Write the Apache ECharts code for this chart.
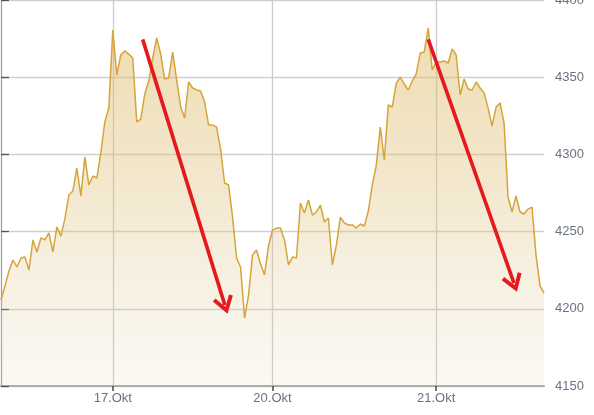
<!DOCTYPE html>
<html>
<head>
<meta charset="utf-8">
<script src="https://cdn.jsdelivr.net/npm/echarts@6.0.0/dist/echarts.min.js"></script>
<style>
html,body{margin:0;padding:0;background:#fff;}
#chart{width:594px;height:415px;}
</style>
</head>
<body>
<div id="chart"></div>
<script>
// Index price, intraday samples from 16.Okt (afternoon) to 21.Okt
const prices = [
  4205.7, 4214.8, 4224.5, 4231.6, 4227.1, 4232.9, 4233.5, 4225.1, 4244.6, 4236.8,
  4245.9, 4244.6, 4249.1, 4236.8, 4253.0, 4247.1, 4258.2, 4273.7, 4276.3, 4291.2,
  4273.1, 4298.3, 4280.2, 4286.0, 4284.7, 4300.9, 4321.0, 4330.0, 4380.6, 4351.4,
  4364.4, 4367.0, 4365.0, 4362.4, 4321.0, 4322.9, 4339.1, 4347.5, 4362.4, 4375.4,
  4365.0, 4348.8, 4349.5, 4366.3, 4348.2, 4330.7, 4323.6, 4346.9, 4343.0, 4341.7,
  4341.1, 4333.9, 4319.0, 4319.0, 4317.7, 4303.5, 4281.5, 4280.2, 4259.4, 4232.9,
  4227.1, 4194.0, 4208.9, 4234.8, 4238.1, 4229.0, 4221.9, 4240.7, 4251.0, 4252.3,
  4252.3, 4244.6, 4228.4, 4233.5, 4232.9, 4268.5, 4262.0, 4270.5, 4260.7, 4262.7,
  4267.2, 4256.2, 4258.8, 4228.4, 4241.3, 4259.4, 4255.6, 4254.3, 4254.3, 4252.3,
  4254.9, 4253.6, 4263.3, 4280.2, 4293.1, 4317.7, 4296.4, 4332.0, 4330.7, 4346.2,
  4350.1, 4345.6, 4341.7, 4347.5, 4352.1, 4365.7, 4366.3, 4381.9, 4354.7, 4359.8,
  4359.8, 4360.5, 4359.2, 4368.3, 4364.4, 4338.5, 4348.8, 4342.4, 4341.7, 4346.9,
  4343.0, 4339.8, 4330.0, 4318.4, 4330.7, 4333.3, 4320.3, 4272.4, 4262.7, 4273.1,
  4262.7, 4261.4, 4264.6, 4265.9, 4234.8, 4214.8, 4210.2
];
// sample index of each day start and its label
const dayTickIndex = [28, 68, 109];
const dayTickLabels = ['17.Okt', '20.Okt', '21.Okt'];
// y axis
const yMin = 4150, yMax = 4400, yStep = 50;
// red trend arrows in data units [sampleIndex, price]
const arrowStarts = [[35.49, 4374.5], [107.01, 4374.5]];
const arrowEnds   = [[56.07, 4202.4], [128.47, 4216.6]];

const categories = prices.map((_, i) => String(i));
const isDayTick = (idx) => dayTickIndex.indexOf(idx) >= 0;
const labelFor = (idx) => dayTickLabels[dayTickIndex.indexOf(idx)];

const textColor = '#6b7181';
const font = 'Liberation Sans, Arial, sans-serif';

const chart = echarts.init(document.getElementById('chart'), null, {renderer: 'canvas'});
chart.setOption({
  animation: false,
  backgroundColor: '#ffffff',
  grid: {left: 1, right: 50, top: 0, bottom: 29, containLabel: false, outerBoundsMode: 'none'},
  xAxis: [{
    type: 'category',
    data: categories,
    boundaryGap: false,
    axisLine: {show: true, lineStyle: {color: '#a9a9a9', width: 2}},
    axisTick: {show: true, length: 5, interval: (i) => isDayTick(i), lineStyle: {color: '#444', width: 1.5}},
    axisLabel: {
      interval: (i) => isDayTick(i),
      formatter: (v, i) => labelFor(i) || '',
      color: textColor, fontSize: 13, fontFamily: font, margin: 6
    },
    splitLine: {show: true, interval: (i) => isDayTick(i), lineStyle: {color: '#cccccc', width: 1.3}}
  }, {
    type: 'value', min: 0, max: prices.length - 1, show: false
  }],
  yAxis: {
    type: 'value',
    position: 'right',
    min: yMin, max: yMax, interval: yStep,
    axisLine: {show: true, lineStyle: {color: '#a0a0a0', width: 1.3}},
    axisTick: {show: true, inside: false, length: 8, lineStyle: {color: '#555', width: 1.3}},
    axisLabel: {color: textColor, fontSize: 13, fontFamily: font, margin: 11, formatter: (v) => String(v)},
    splitLine: {show: true, lineStyle: {color: '#d0d0d0', width: 1.3}}
  },
  series: [{
    type: 'line',
    data: prices,
    symbol: 'none',
    lineStyle: {color: '#d6a43a', width: 1.5},
    areaStyle: {
      color: new echarts.graphic.LinearGradient(0, 0, 0, 1, [
        {offset: 0, color: 'rgba(222,186,104,0.72)'},
        {offset: 0.45, color: 'rgba(222,190,116,0.5)'},
        {offset: 1, color: 'rgba(228,212,176,0.22)'}
      ])
    },
    silent: true
  }, {
    type: 'line',
    xAxisIndex: 1,
    data: [],
    silent: true,
    markLine: {
      silent: true,
      symbol: ['none', 'path://M10,0 L20,15 L16.8,17 L10,6.5 L3.2,17 L0,15 Z'],
      symbolSize: [21, 18],
      label: {show: false},
      emphasis: {disabled: true},
      lineStyle: {color: '#e5191e', width: 3.6, type: 'solid', opacity: 1},
      data: arrowStarts.map((s, k) => [
        {coord: s},
        {coord: arrowEnds[k]}
      ])
    }
  }]
});
</script>
</body>
</html>
